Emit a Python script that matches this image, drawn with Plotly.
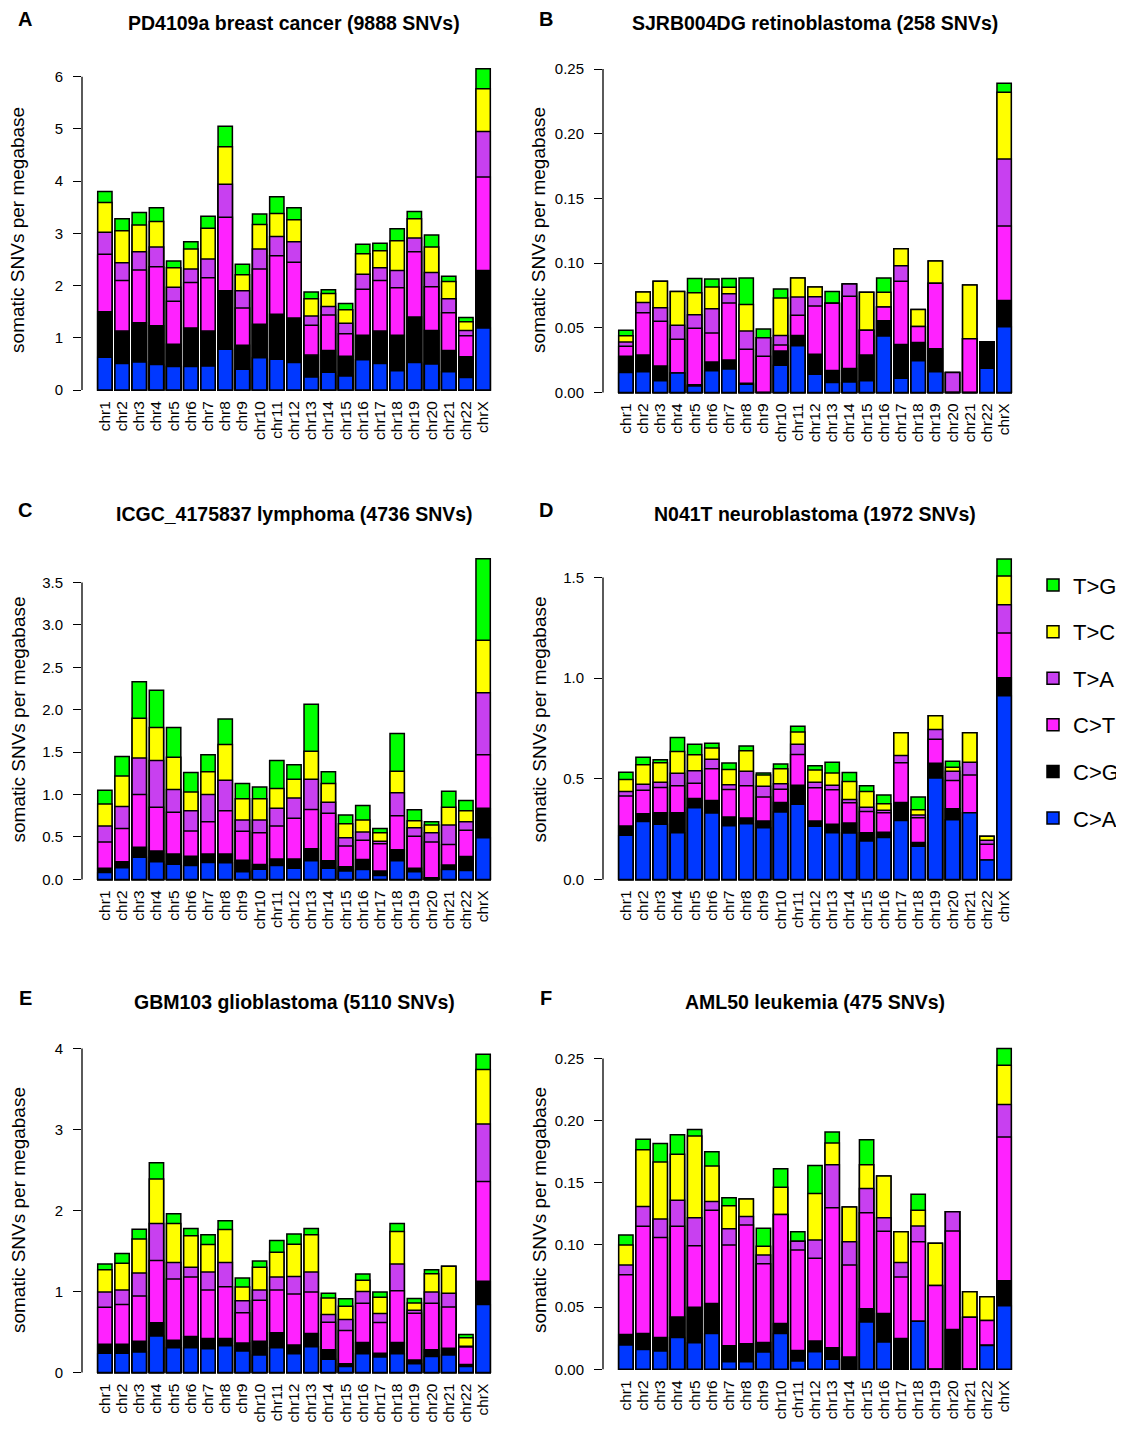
import plotly.graph_objects as go

# The page body has an 8px default margin, so the figure is drawn 8px smaller
# and all target pixel positions are offset by 8px.
OFF = 8
W, H = 1124 - OFF, 1432 - OFF
FONT = "Liberation Sans, Arial, Helvetica, sans-serif"


def fx(px):
    return (px - OFF) / W


def fy(py):
    return 1 - (py - OFF) / H


chroms = ["chr" + str(i) for i in range(1, 23)] + ["chrX"]
classes = ["T>G", "T>C", "T>A", "C>T", "C>G", "C>A"]
colors = {"T>G": "#00FF00", "T>C": "#FFFF00", "T>A": "#C840F0",
          "C>T": "#FF22FF", "C>G": "#000000", "C>A": "#0038FF"}

# Cumulative tops of each stacked segment, bottom to top:
# C>A, C>A+C>G, ... , total (T>G top)
# Panel A: PD4109a breast cancer
A_ca = [0.63,0.51,0.54,0.49,0.45,0.45,0.46,0.78,0.40,0.62,0.59,0.53,0.25,0.34,0.27,0.58,0.51,0.37,0.53,0.50,0.35,0.24,1.19]
A_cg = [1.50,1.13,1.29,1.23,0.88,1.19,1.13,1.90,0.86,1.26,1.45,1.38,0.67,0.76,0.65,1.05,1.13,1.05,1.40,1.14,0.76,0.64,2.29]
A_ct = [2.60,2.10,2.30,2.36,1.70,2.06,2.15,3.31,1.57,2.32,2.57,2.45,1.24,1.44,1.08,1.93,2.10,1.96,2.65,1.98,1.48,1.04,4.08]
A_ta = [3.02,2.44,2.65,2.74,1.97,2.32,2.51,3.94,1.90,2.70,2.94,2.84,1.42,1.60,1.28,2.22,2.34,2.29,2.91,2.25,1.75,1.14,4.95]
A_tc = [3.59,3.05,3.16,3.23,2.34,2.70,3.10,4.66,2.21,3.17,3.38,3.26,1.75,1.85,1.54,2.61,2.67,2.86,3.28,2.74,2.08,1.31,5.77]
A_tg = [3.80,3.28,3.40,3.49,2.47,2.84,3.33,5.05,2.41,3.37,3.70,3.49,1.88,1.92,1.66,2.79,2.81,3.09,3.42,2.97,2.18,1.39,6.15]

# Panel B: SJRB004DG retinoblastoma
B_ca = [.0154,.016,.009,.015,.005,.0167,.018,.0064,0,.021,.036,.014,.0077,.008,.009,.0436,.011,.0244,.016,0,0,.0187,.0508]
B_cg = [.028,.029,.0205,.015,.006,.0236,.025,.007,0,.032,.044,.0295,.017,.0185,.029,.0554,.037,.0385,.0338,0,0,.039,.071]
B_ct = [.0356,.0615,.055,.041,.0495,.046,.0692,.0333,.028,.0367,.0597,.0667,.069,.0744,.048,.066,.086,.051,.0844,0,.0415,.039,.1287]
B_ta = [.039,.0695,.0654,.052,.060,.0646,.0762,.0474,.0423,.044,.0738,.074,.069,.0838,.048,.066,.098,.051,.0844,.0154,.0415,.039,.1805]
B_tc = [.0438,.0777,.086,.078,.077,.0815,.0813,.068,.0423,.073,.0885,.0815,.069,.0838,.0774,.0774,.111,.064,.1015,.0154,.083,.039,.232]
B_tg = [.048,.0777,.086,.078,.088,.0877,.088,.0885,.049,.080,.0885,.0815,.078,.0838,.0774,.0885,.111,.064,.1015,.0154,.083,.039,.239]

# Panel C: ICGC_4175837 lymphoma
C_ca = [.082,.137,.26,.207,.18,.164,.20,.196,.09,.12,.164,.13,.22,.13,.10,.117,.047,.22,.09,.012,.117,.105,.49]
C_cg = [.13,.207,.38,.336,.30,.274,.30,.30,.227,.176,.24,.24,.36,.22,.15,.235,.10,.35,.13,.02,.17,.27,.84]
C_ct = [.44,.60,1.00,.85,.79,.57,.68,.81,.567,.55,.63,.72,.825,.78,.395,.46,.42,.75,.51,.44,.41,.58,1.47]
C_ta = [.63,.86,1.43,1.40,1.06,.81,1.00,1.17,.70,.70,.84,.96,1.18,.91,.49,.56,.45,1.02,.61,.55,.64,.68,2.20]
C_tc = [.89,1.22,1.90,1.79,1.44,1.03,1.27,1.59,.95,.95,1.07,1.18,1.51,1.13,.657,.70,.55,1.275,.69,.64,.85,.81,2.82]
C_tg = [1.05,1.45,2.33,2.23,1.79,1.26,1.47,1.89,1.13,1.09,1.40,1.35,2.065,1.27,.76,.87,.60,1.72,.82,.68,1.04,.93,3.78]

# Panel D: N041T neuroblastoma
D_ca = [.22,.288,.274,.232,.356,.33,.267,.277,.257,.335,.374,.264,.232,.231,.191,.208,.293,.165,.504,.297,.331,.097,.913]
D_cg = [.265,.326,.331,.331,.402,.392,.31,.305,.29,.382,.468,.29,.274,.28,.232,.234,.382,.183,.577,.351,.331,.097,1.002]
D_ct = [.415,.443,.457,.465,.478,.55,.447,.465,.409,.448,.621,.455,.445,.381,.338,.331,.58,.307,.696,.491,.519,.175,1.225]
D_ta = [.437,.473,.483,.527,.54,.597,.47,.537,.463,.475,.672,.483,.468,.397,.359,.344,.616,.32,.745,.537,.582,.194,1.365]
D_tc = [.496,.57,.58,.636,.62,.653,.546,.64,.519,.55,.733,.544,.529,.486,.437,.376,.729,.346,.813,.557,.729,.214,1.508]
D_tg = [.532,.607,.595,.705,.672,.677,.578,.663,.529,.574,.761,.565,.582,.531,.465,.42,.729,.41,.813,.587,.729,.214,1.592]

# Panel E: GBM103 glioblastoma
E_ca = [.237,.237,.254,.45,.307,.307,.295,.33,.266,.217,.307,.233,.32,.164,.074,.233,.192,.233,.11,.197,.217,.074,.84]
E_cg = [.348,.348,.385,.614,.40,.446,.42,.42,.364,.385,.49,.34,.483,.282,.11,.37,.237,.37,.155,.282,.30,.10,1.126]
E_ct = [.807,.84,.946,1.384,1.155,1.18,1.02,1.06,.737,.893,1.02,.97,.995,.622,.52,.856,.618,1.01,.733,.856,.81,.315,2.36]
E_ta = [.995,1.02,1.23,1.84,1.36,1.30,1.24,1.36,.888,1.02,1.18,1.187,1.24,.716,.655,1.00,.729,1.34,.77,.995,.98,.325,3.07]
E_tc = [1.27,1.35,1.65,2.39,1.84,1.69,1.58,1.765,1.056,1.30,1.486,1.585,1.70,.92,.82,1.14,.93,1.74,.86,1.22,1.314,.43,3.74]
E_tg = [1.34,1.47,1.77,2.59,1.96,1.78,1.70,1.875,1.167,1.376,1.63,1.71,1.78,.98,.91,1.216,.995,1.84,.913,1.27,1.314,.47,3.93]

# Panel F: AML50 leukemia
F_ca = [.0195,.016,.0147,.0256,.0213,.0288,.006,.006,.0139,.0288,.0067,.0141,.008,0,.038,.0219,0,.0387,0,0,0,.0192,.0512]
F_cg = [.028,.0288,.0256,.042,.05,.053,.019,.0205,.0216,.0368,.0152,.0227,.0173,.0099,.0488,.0448,.0248,.0387,0,.032,0,.0195,.0712]
F_ct = [.076,.115,.106,.115,.0993,.128,.10,.116,.085,.1246,.096,.0894,.130,.084,.126,.111,.0742,.1027,.0675,.1113,.0419,.0392,.1868]
F_ta = [.084,.131,.121,.136,.122,.135,.113,.123,.092,.1246,.103,.104,.1646,.1027,.1454,.122,.086,.1153,.0675,.1267,.0419,.0392,.213]
F_tc = [.100,.1766,.1668,.173,.1876,.1636,.1315,.137,.099,.1465,.103,.1414,.182,.1305,.1646,.1556,.1107,.128,.1014,.1267,.0624,.0584,.2447]
F_tg = [.108,.185,.1817,.1886,.193,.175,.138,.137,.1134,.1614,.1107,.164,.191,.1305,.1846,.1556,.1107,.1409,.1014,.1267,.0624,.0584,.258]

titles = ["PD4109a breast cancer (9888 SNVs)", "SJRB004DG retinoblastoma (258 SNVs)",
          "ICGC_4175837 lymphoma (4736 SNVs)", "N041T neuroblastoma (1972 SNVs)",
          "GBM103 glioblastoma (5110 SNVs)", "AML50 leukemia (475 SNVs)"]
letters = ["A", "B", "C", "D", "E", "F"]
ylab = "somatic SNVs per megabase"

panels = [
    dict(data=[A_tg, A_tc, A_ta, A_ct, A_cg, A_ca], x0=82, z=391.0, p=52.5, top=6.4,
         ticks=[0, 1, 2, 3, 4, 5, 6], fmt="d", title_y=22, lab_y=230),
    dict(data=[B_tg, B_tc, B_ta, B_ct, B_cg, B_ca], x0=603, z=393.3, p=1300.0, top=0.26,
         ticks=[0, 0.05, 0.10, 0.15, 0.20, 0.25], fmt=".2f", title_y=22, lab_y=230),
    dict(data=[C_tg, C_tc, C_ta, C_ct, C_cg, C_ca], x0=82, z=882.7, p=85.26, top=3.85,
         ticks=[0, 0.5, 1.0, 1.5, 2.0, 2.5, 3.0, 3.5], fmt=".1f", title_y=515, lab_y=722),
    dict(data=[D_tg, D_tc, D_ta, D_ct, D_cg, D_ca], x0=603, z=882.7, p=202.2, top=1.65,
         ticks=[0, 0.5, 1.0, 1.5], fmt=".1f", title_y=515, lab_y=722),
    dict(data=[E_tg, E_tc, E_ta, E_ct, E_cg, E_ca], x0=82, z=1378.3, p=81.4, top=4.1,
         ticks=[0, 1, 2, 3, 4], fmt="d", title_y=1006, lab_y=1215),
    dict(data=[F_tg, F_tc, F_ta, F_ct, F_cg, F_ca], x0=603, z=1375.0, p=1249.0, top=0.265,
         ticks=[0, 0.05, 0.10, 0.15, 0.20, 0.25], fmt=".2f", title_y=1006, lab_y=1215),
]

PW = 424  # plot width in px

fig = go.Figure()
annotations = []
shapes = []
layout_axes = {}

for i, pn in enumerate(panels):
    k = "" if i == 0 else str(i + 1)
    xa, ya = "x" + k, "y" + k
    for cls, vals in zip(classes, pn["data"]):
        fig.add_trace(go.Bar(
            x=chroms, y=vals, name=cls, xaxis=xa, yaxis=ya,
            marker=dict(color=colors[cls], line=dict(color="black", width=1.5)),
            legendgroup=cls, showlegend=(i == 0),
        ))
    x0 = pn["x0"]
    x1 = x0 + PW
    ybot = pn["z"] + 2
    ytop = pn["z"] - pn["top"] * pn["p"]
    layout_axes["xaxis" + k] = dict(
        domain=[fx(x0), fx(x1)], anchor=ya, type="category",
        range=[-1.33, 23.33], showgrid=False, zeroline=False, showline=False,
        tickmode="array", tickvals=chroms, ticktext=chroms,
        ticks="", tickangle=-90, ticklabelstandoff=5,
        tickfont=dict(family=FONT, size=15.5, color="black"),
    )
    layout_axes["yaxis" + k] = dict(
        domain=[fy(ybot), fy(ytop)], anchor=xa,
        range=[-2 / pn["p"], pn["top"]], showgrid=False, zeroline=False, showline=False,
        tickmode="array", tickvals=pn["ticks"],
        ticktext=[(str(int(t)) if pn["fmt"] == "d" else format(t, pn["fmt"])) for t in pn["ticks"]],
        ticks="outside", ticklen=8, tickwidth=1.3, tickcolor="black",
        ticklabelstandoff=7,
        tickfont=dict(family=FONT, size=15, color="black"),
    )
    # R-style axis line spanning only the tick range
    shapes.append(dict(type="line", xref=xa + " domain", yref=ya, x0=0, x1=0,
                       y0=pn["ticks"][0], y1=pn["ticks"][-1],
                       line=dict(color="black", width=1.3)))
    # title
    annotations.append(dict(text="<b>" + titles[i] + "</b>", xref="paper", yref="paper",
                            x=fx(x0 + PW / 2), y=fy(pn["title_y"]), showarrow=False,
                            xanchor="center", yanchor="middle",
                            font=dict(family=FONT, size=19.5, color="black")))
    # panel letter
    annotations.append(dict(text="<b>" + letters[i] + "</b>", xref="paper", yref="paper",
                            x=fx(x0 - 57), y=fy(pn["title_y"] - 4), showarrow=False,
                            xanchor="center", yanchor="middle",
                            font=dict(family=FONT, size=20, color="black")))
    # y label
    annotations.append(dict(text=ylab, xref="paper", yref="paper", textangle=-90,
                            x=fx(x0 - 64), y=fy(pn["lab_y"]), showarrow=False,
                            xanchor="center", yanchor="middle",
                            font=dict(family=FONT, size=19, color="black")))

fig.update_layout(
    width=W, height=H, margin=dict(l=0, r=0, t=0, b=0),
    paper_bgcolor="white", plot_bgcolor="white",
    barmode="overlay", bargap=0.2 / 1.2,
    showlegend=True,
    legend=dict(x=fx(1033), y=fy(566), xanchor="left", yanchor="top",
                traceorder="grouped", tracegroupgap=15,
                font=dict(family=FONT, size=22, color="black"),
                bgcolor="rgba(0,0,0,0)", itemwidth=30),
    annotations=annotations, shapes=shapes,
    **layout_axes,
)

fig.write_html("out.html")
